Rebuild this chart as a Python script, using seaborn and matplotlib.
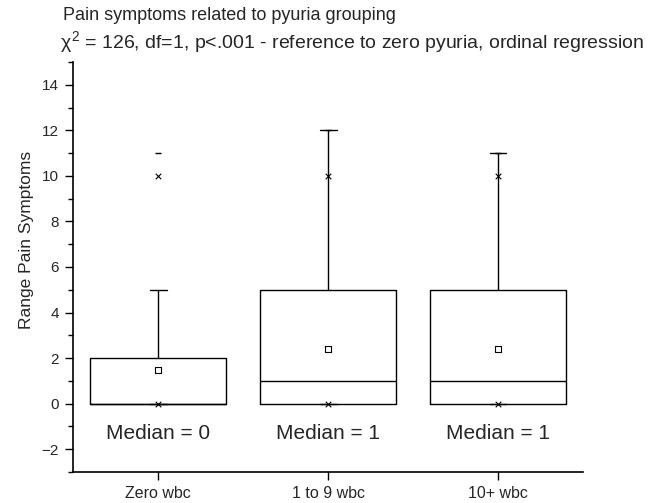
import matplotlib
matplotlib.use('Agg')
import matplotlib.pyplot as plt
import seaborn as sns
import numpy as np
from matplotlib.ticker import MultipleLocator

sns.set_style("ticks")
plt.rcParams['font.family'] = ['Liberation Sans', 'DejaVu Sans']
plt.rcParams['mathtext.fontset'] = 'custom'
plt.rcParams['mathtext.rm'] = 'Liberation Sans'
plt.rcParams['mathtext.it'] = 'Liberation Sans'

# summary values per pyuria group
groups = ["Zero wbc", "1 to 9 wbc", "10+ wbc"]
q1 = [0, 0, 0]
median = [0, 1, 1]
q3 = [2, 5, 5]
whisk_lo = [0, 0, 0]
whisk_hi = [5, 12, 11]
mean = [1.5, 2.4, 2.4]
pct_lo = [0, 0, 0]      # 1st percentile (x)
pct_hi = [10, 10, 10]   # 99th percentile (x)
max_val = [11, 12, 11]  # max (dash)
median_labels = ["Median = 0", "Median = 1", "Median = 1"]

pos = np.arange(len(groups))

fig = plt.figure(figsize=(6.59, 5.03), dpi=100)
ax = fig.add_axes([73/659, 31/503, 510/659, 410/503])

stats = []
for i, g in enumerate(groups):
    stats.append(dict(label=g, q1=q1[i], med=median[i], q3=q3[i],
                      whislo=whisk_lo[i], whishi=whisk_hi[i], fliers=[]))

line = dict(color='black', linewidth=1.0)
ax.bxp(stats, positions=pos, widths=0.8, capwidths=0.1, showfliers=False,
       boxprops=line, whiskerprops=line, capprops=line, medianprops=line)

sns.scatterplot(x=pos, y=mean, marker='s', s=14, color='white',
                edgecolor='black', linewidth=0.8, zorder=5, ax=ax)
sns.scatterplot(x=np.r_[pos, pos], y=pct_lo + pct_hi, marker='x', s=16,
                color='black', linewidth=0.8, zorder=5, ax=ax)
sns.scatterplot(x=pos, y=max_val, marker='_', s=20, color='black',
                linewidth=1.0, zorder=5, ax=ax)

for p, t in zip(pos, median_labels):
    ax.text(p, -1.3, t, ha='center', va='center', fontsize=15)

ax.set_xlim(-0.5, 2.5)
ax.set_ylim(-3, 15)
ax.set_xticks(pos, groups)
ax.yaxis.set_major_locator(MultipleLocator(2))
ax.yaxis.set_minor_locator(MultipleLocator(1))
ax.set_yticks([-2, 0, 2, 4, 6, 8, 10, 12, 14])
ax.tick_params(axis='both', which='major', length=6, width=1,
               color='black', pad=4)
ax.tick_params(axis='x', labelsize=11.5)
ax.tick_params(axis='y', labelsize=11)
ax.tick_params(axis='y', which='minor', length=3.5, width=1, color='black')
ax.set_ylabel("Range Pain Symptoms", fontsize=12.5)
ax.yaxis.set_label_coords(-0.077, 0.566)

sns.despine(ax=ax)
for s in ['left', 'bottom']:
    ax.spines[s].set_linewidth(1.2)
    ax.spines[s].set_color('black')

fig.text(63/659, 1 - 16/503, "Pain symptoms related to pyuria grouping",
         ha='left', va='center', fontsize=13)
fig.text(60/659, 1 - 42/503,
         r"$\chi^2$ = 126, df=1, p<.001 - reference to zero pyuria, ordinal regression",
         ha='left', va='center', fontsize=14)

fig.savefig("out.png", dpi=100)
